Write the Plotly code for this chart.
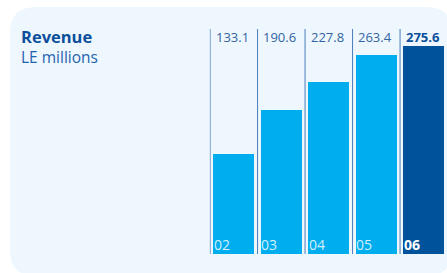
import plotly.graph_objects as go

years = ["02", "03", "04", "05", "06"]
revenue = [133.1, 190.6, 227.8, 263.4, 275.6]
value_labels = ["133.1", "190.6", "227.8", "263.4", "275.6"]
highlight = [False, False, False, False, True]

W, H = 447, 273
LIGHT = "#00aeef"
DARK = "#00529b"
FONT = "Open Sans"

base_px = 254.0
px_per_unit = 0.755
slot_px = 47.5
first_edge_px = 209.75
ytop_val = base_px / px_per_unit
line_top_val = (base_px - 29) / px_per_unit

n = len(years)
xs = list(range(n))
colors = [DARK if h else LIGHT for h in highlight]

fig = go.Figure()

def px(x):
    return x / W
def py(y):
    return 1 - y / H
r = 26
x0, y0, x1, y1 = 10, 7, 452, 276
path = (f"M {px(x0+r)},{py(y0)} L {px(x1-r)},{py(y0)} "
        f"Q {px(x1)},{py(y0)} {px(x1)},{py(y0+r)} "
        f"L {px(x1)},{py(y1-r)} Q {px(x1)},{py(y1)} {px(x1-r)},{py(y1)} "
        f"L {px(x0+r)},{py(y1)} Q {px(x0)},{py(y1)} {px(x0)},{py(y1-r)} "
        f"L {px(x0)},{py(y0+r)} Q {px(x0)},{py(y0)} {px(x0+r)},{py(y0)} Z")
fig.add_shape(type="path", path=path, xref="paper", yref="paper",
              fillcolor="#edf7fd", line=dict(width=0), layer="below")

fig.add_trace(go.Bar(x=xs, y=revenue, marker=dict(color=colors, line=dict(width=0)),
                     width=41 / slot_px, offset=-0.5 + 3 / slot_px,
                     hoverinfo="skip", showlegend=False))

lx, ly = [], []
for i in xs:
    lx += [i - 0.5 + 0.3 / slot_px] * 2 + [None]
    ly += [0, line_top_val, None]
fig.add_trace(go.Scatter(x=lx, y=ly, mode="lines", line=dict(color="#4a7cbb", width=1),
                         hoverinfo="skip", showlegend=False))

for i, (lab, yr, h) in enumerate(zip(value_labels, years, highlight)):
    fig.add_annotation(x=i - 0.5, y=line_top_val, xref="x", yref="y",
                       text=f"<b>{lab}</b>" if h else lab, showarrow=False,
                       xanchor="left", yanchor="top", xshift=4, yshift=3,
                       font=dict(family=FONT, size=13, color="#0b4f9c" if h else "#3264a3"))
    fig.add_annotation(x=i - 0.5, y=0, xref="x", yref="y",
                       text=f"<b>{yr}</b>" if h else yr, showarrow=False,
                       xanchor="left", yanchor="bottom", xshift=2, yshift=-2,
                       font=dict(family=FONT, size=14, color="#ffffff" if h else "#d2f0fc"))

fig.add_annotation(x=px(19), y=py(23), xref="paper", yref="paper", text="<b>Revenue</b>",
                   showarrow=False, xanchor="left", yanchor="top",
                   font=dict(family=FONT, size=16.5, color="#0b4f9c"))
fig.add_annotation(x=px(19), y=py(44), xref="paper", yref="paper", text="LE millions",
                   showarrow=False, xanchor="left", yanchor="top",
                   font=dict(family=FONT, size=15.5, color="#1f63b0"))

fig.update_layout(
    width=W, height=H, margin=dict(l=0, r=0, t=0, b=0),
    paper_bgcolor="white", plot_bgcolor="rgba(0,0,0,0)",
    xaxis=dict(domain=[first_edge_px / W, 1], range=[-0.5, -0.5 + (W - first_edge_px) / slot_px],
               visible=False, fixedrange=True),
    yaxis=dict(domain=[1 - base_px / H, 1], range=[0, ytop_val], visible=False, fixedrange=True),
    bargap=0, hovermode=False,
)

fig.write_html("out.html", config={"displayModeBar": False},
               post_script="document.body.style.margin='0';document.body.style.overflow='hidden';")
